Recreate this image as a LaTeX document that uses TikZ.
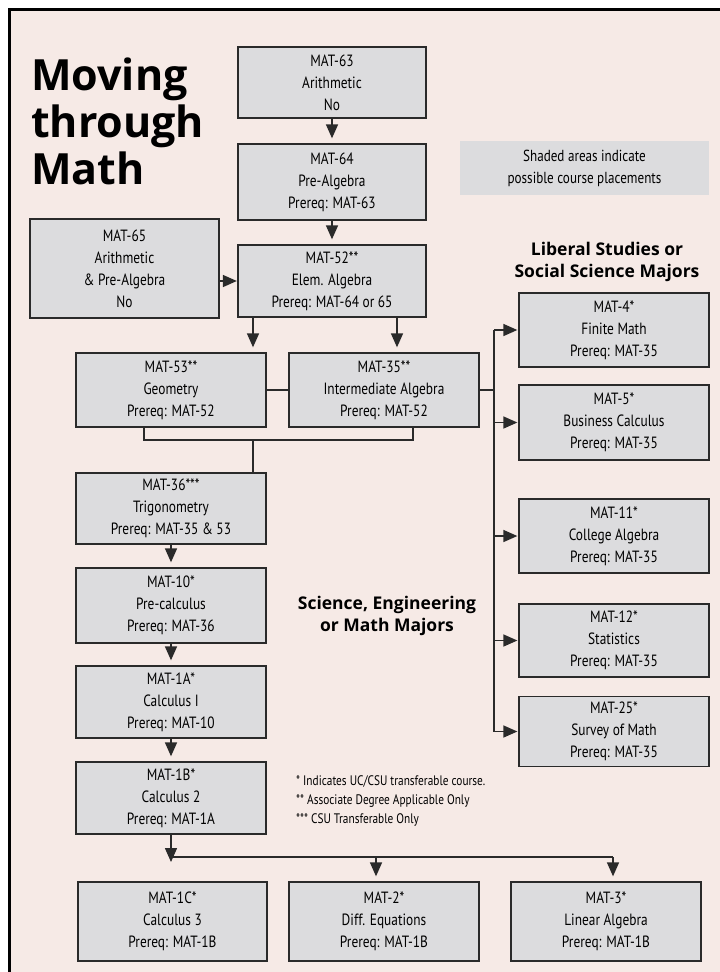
\documentclass[tikz,border=0pt]{standalone}
\usepackage{fontspec}
\setmainfont{PT Sans}
\newfontfamily\condfont[FakeStretch=0.82]{PT Sans}
\newfontfamily\headfont{Open Sans}
\usetikzlibrary{arrows.meta}
\definecolor{bgpink}{HTML}{F6EAE6}
\definecolor{boxgray}{HTML}{DCDCDE}
\definecolor{edgec}{HTML}{2A2A2A}
\tikzset{
  cbox/.style={draw=edgec, fill=boxgray, line width=1.3pt, inner sep=0pt, align=center,
    font=\condfont\fontsize{16.3}{22}\selectfont, minimum width=190pt, minimum height=74pt},
  link/.style={draw=edgec, line width=1.5pt},
  arr/.style={link, -{Triangle[width=12pt,length=14pt]}},
  gap/.style={shorten >=5pt},
  hdr/.style={align=center, font=\headfont\bfseries\fontsize{17.5}{22}\selectfont, inner sep=0pt},
}
\begin{document}
\begin{tikzpicture}[x=1pt,y=-1pt]
\useasboundingbox (0,0) rectangle (720,972);
\fill[white] (0,0) rectangle (720,972);
\fill[bgpink] (9,9) rectangle (730,985);
\draw[line width=3pt] (9,985) -- (9,9) -- (730,9);

\node[anchor=north west, align=left, inner sep=0pt, font=\headfont\bfseries\fontsize{43}{47}\selectfont] (title) at (31,58) {Moving\\through\\Math};

\node[cbox, minimum width=188pt, minimum height=71pt] (m63) at (332,82.5) {MAT-63\\Arithmetic\\No};
\node[cbox, minimum width=188pt, minimum height=76pt] (m64) at (332,182) {MAT-64\\Pre-Algebra\\Prereq: MAT-63};
\node[cbox, minimum width=189pt, minimum height=99pt] (m65) at (124.5,268.5) {MAT-65\\Arithmetic\\\& Pre-Algebra\\No};
\node[cbox, minimum width=188pt, minimum height=72pt] (m52) at (332,281) {MAT-52**\\Elem. Algebra\\Prereq: MAT-64 or 65};
\node[cbox] (m53) at (171,390) {MAT-53**\\Geometry\\Prereq: MAT-52};
\node[cbox] (m35) at (384,390) {MAT-35**\\Intermediate Algebra\\Prereq: MAT-52};
\node[cbox, minimum height=71pt] (m36) at (171,508.5) {MAT-36***\\Trigonometry\\Prereq: MAT-35 \& 53};
\node[cbox, minimum height=75pt] (m10) at (171,605.5) {MAT-10*\\Pre-calculus\\Prereq: MAT-36};
\node[cbox, minimum height=72pt] (m1A) at (171,702) {MAT-1A*\\Calculus I\\Prereq: MAT-10};
\node[cbox, minimum height=72pt] (m1B) at (171,798) {MAT-1B*\\Calculus 2\\Prereq: MAT-1A};
\node[cbox, minimum width=189pt, minimum height=79pt] (m1C) at (172.5,921.5) {MAT-1C*\\Calculus 3\\Prereq: MAT-1B};
\node[cbox, minimum height=79pt] (m2) at (384,921.5) {MAT-2*\\Diff. Equations\\Prereq: MAT-1B};
\node[cbox, minimum height=79pt] (m3) at (606,921.5) {MAT-3*\\Linear Algebra\\Prereq: MAT-1B};

\node[cbox] (m4) at (614,330) {MAT-4*\\Finite Math\\Prereq: MAT-35};
\node[cbox, minimum height=75pt] (m5) at (614,422.5) {MAT-5*\\Business Calculus\\Prereq: MAT-35};
\node[cbox] (m11) at (614,536) {MAT-11*\\College Algebra\\Prereq: MAT-35};
\node[cbox, minimum height=73pt] (m12) at (614,640.5) {MAT-12*\\Statistics\\Prereq: MAT-35};
\node[cbox, minimum height=70pt] (m25) at (614,731.5) {MAT-25*\\Survey of Math\\Prereq: MAT-35};

\node[fill=boxgray, minimum width=249pt, minimum height=54pt, inner sep=0pt, align=center,
  font=\condfont\fontsize{16}{22}\selectfont] (legend) at (584.5,168) {Shaded areas indicate\\possible course placements};
\node[hdr] (hlib) at (607,262) {Liberal Studies or\\Social Science Majors};
\node[hdr] (hsci) at (387,616) {Science, Engineering\\or Math Majors};
\node[anchor=west, align=left, inner sep=0pt, font=\condfont\fontsize{13.8}{19}\selectfont] (notes) at (296,801)
  {* Indicates UC/CSU transferable course.\\** Associate Degree Applicable Only\\*** CSU Transferable Only};

% coordinates for connector lines
\coordinate (xa) at (253,0);
\coordinate (xb) at (397,0);
\coordinate (xc) at (144,0);
\coordinate (xd) at (413,0);
\coordinate (jy) at (0,440);
\coordinate (sx) at (494,0);
\coordinate (by) at (0,857);
\coordinate (x2) at (376,0);
\coordinate (x3) at (613,0);
\coordinate (t1) at (171,862);

\draw[arr, gap] (m63) -- (m64);
\draw[arr, gap] (m64) -- (m52);
\draw[arr, shorten >=0.5pt] (m65.east |- m52.west) -- (m52.west);
\draw[arr, gap] (m52.south -| xa) -- (m53.north -| xa);
\draw[arr, gap] (m52.south -| xb) -- (m35.north -| xb);
\draw[link] (m53.east) -- (m35.west);
\draw[link] (m53.south -| xc) -- (xc |- jy) -- (xd |- jy) -- (m35.south -| xd);
\draw[link] (xa |- jy) -- (m36.north -| xa);
\draw[link] (m35.east) -- (m35.east -| sx);
\draw[link] (sx |- m4.west) -- (sx |- m25.west);
\draw[arr, shorten >=1pt] (sx |- m4.west) -- (m4.west);
\draw[arr, shorten >=1pt] (sx |- m5.west) -- (m5.west);
\draw[arr, shorten >=1pt] (sx |- m11.west) -- (m11.west);
\draw[arr, shorten >=1pt] (sx |- m12.west) -- (m12.west);
\draw[arr, shorten >=1pt] (sx |- m25.west) -- (m25.west);
\draw[arr, gap] (m36) -- (m10);
\draw[arr, gap] (m10) -- (m1A);
\draw[arr, gap] (m1A) -- (m1B);
\draw[arr] (m1B) -- (t1);
\draw[link] (m1B.south |- by) -- (x3 |- by);
\draw[arr, gap] (x2 |- by) -- (m2.north -| x2);
\draw[arr, gap] (x3 |- by) -- (m3.north -| x3);
\end{tikzpicture}
\end{document}
